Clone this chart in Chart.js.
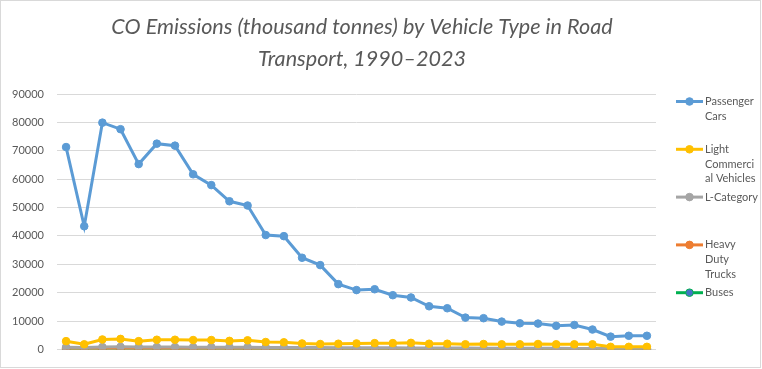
<!DOCTYPE html>
<html>
<head>
<meta charset="utf-8">
<script src="https://cdn.jsdelivr.net/npm/chart.js@4.4.1/dist/chart.umd.min.js"></script>
<style>
  body { margin: 0; background: #fff; }
  #wrap { position: relative; width: 762px; height: 369px; }
  #frame { position: absolute; left: 0; top: 0; width: 759px; height: 366px; border: 1px solid #d9d9d9; pointer-events: none; }
</style>
</head>
<body>
<div id="wrap">
  <canvas id="myChart" width="762" height="369"></canvas>
  <div id="frame"></div>
</div>
<script>
var years = [];
for (var y = 1990; y <= 2022; y++) years.push(String(y));

var titleLines = ['CO Emissions (thousand tonnes) by Vehicle Type in Road', 'Transport, 1990\u20132023'];

var seriesNames = ['Passenger Cars', 'Light Commercial Vehicles', 'L-Category', 'Heavy Duty Trucks', 'Buses'];
var legendLines = [['Passenger', 'Cars'], ['Light', 'Commerci', 'al Vehicles'], ['L-Category'], ['Heavy', 'Duty', 'Trucks'], ['Buses']];

var passengerCars = [71300, 43400, 79900, 77600, 65300, 72500, 71800, 61700, 57900, 52200, 50700, 40300, 39900, 32300, 29700,
  23000, 20900, 21200, 19100, 18300, 15200, 14500, 11200, 11000, 9800, 9200, 9100, 8300, 8600, 7000, 4500, 4800, 4800];
var lightCommercial = [2900, 1800, 3500, 3700, 2900, 3400, 3400, 3300, 3300, 3000, 3200, 2600, 2500, 2100, 1900,
  2000, 2100, 2200, 2200, 2300, 2000, 2000, 1800, 1900, 1800, 1800, 1900, 1800, 1800, 1800, 900, 900, 900];
var lCategory = [800, 700, 850, 900, 850, 850, 850, 800, 800, 800, 750, 700, 700, 650, 650,
  600, 600, 550, 550, 500, 500, 450, 450, 400, 400, 400, 380, 370, 350, 350, 300, 300, 300];
var heavyTrucks = [350, 330, 340, 340, 330, 330, 320, 310, 300, 300, 290, 280, 270, 260, 250,
  240, 230, 220, 210, 200, 190, 180, 170, 160, 150, 150, 140, 140, 130, 130, 110, 110, 100];
var buses = [80, 75, 80, 80, 75, 75, 75, 70, 70, 70, 65, 65, 60, 60, 55,
  55, 50, 50, 50, 45, 45, 40, 40, 40, 35, 35, 35, 30, 30, 30, 25, 25, 25];

var yTicks = [0, 10000, 20000, 30000, 40000, 50000, 60000, 70000, 80000, 90000];

var lineColors = ['#5B9BD5', '#FFC000', '#A5A5A5', '#ED7D31', '#00B050'];
var markerFill = ['#5B9BD5', '#FFC000', '#A5A5A5', '#ED7D31', '#4472C4'];
var textColor = '#595959';

function makeSet(i, values) {
    return {
        label: seriesNames[i],
        data: values,
        borderColor: lineColors[i],
        backgroundColor: markerFill[i],
        pointBackgroundColor: markerFill[i],
        pointBorderColor: lineColors[i],
        pointBorderWidth: 1,
        pointRadius: 3.8,
        borderWidth: 3,
        tension: 0
    };
}

// title + wrapped legend the way Excel lays them out
var excelDecor = {
    id: 'excelDecor',
    afterDraw: function (chart) {
        var ctx = chart.ctx;
        ctx.save();
        ctx.fillStyle = textColor;
        ctx.textAlign = 'center';
        ctx.textBaseline = 'middle';
        ctx.font = 'italic 400 21.6px Lato';
        ctx.fillText(titleLines[0], 362, 27);
        ctx.fillText(titleLines[1], 362, 59);

        ctx.textAlign = 'left';
        ctx.font = '11px Lato';
        chart.data.datasets.forEach(function (ds, i) {
            var cy = 101.5 + i * 47.8;
            ctx.strokeStyle = ds.borderColor;
            ctx.lineWidth = 3;
            ctx.beginPath();
            ctx.moveTo(676, cy);
            ctx.lineTo(703, cy);
            ctx.stroke();
            ctx.beginPath();
            ctx.arc(689.5, cy, 3.8, 0, Math.PI * 2);
            ctx.fillStyle = ds.pointBackgroundColor;
            ctx.fill();
            ctx.lineWidth = 1;
            ctx.stroke();
            ctx.fillStyle = textColor;
            legendLines[i].forEach(function (t, k) {
                ctx.fillText(t, 705, cy + k * 14.7);
            });
        });
        ctx.restore();
    }
};

var ctx = document.getElementById('myChart');
var myChart = new Chart(ctx, {
    type: 'line',
    data: {
        labels: years,
        datasets: [
            makeSet(0, passengerCars),
            makeSet(1, lightCommercial),
            makeSet(2, lCategory),
            makeSet(3, heavyTrucks),
            makeSet(4, buses)
        ]
    },
    options: {
        responsive: false,
        devicePixelRatio: 1,
        animation: false,
        layout: {
            padding: { top: 94, right: 106, bottom: 17, left: 0 }
        },
        plugins: {
            legend: { display: false },
            title: { display: false },
            tooltip: { enabled: false }
        },
        scales: {
            x: {
                display: false,
                offset: true
            },
            y: {
                min: 0,
                max: 90000,
                afterFit: function (scale) { scale.width = 57; },
                afterBuildTicks: function (scale) {
                    scale.ticks = yTicks.map(function (v) { return { value: v }; });
                },
                grid: { color: '#D9D9D9', lineWidth: 1, drawTicks: false },
                border: { display: false },
                ticks: {
                    padding: 13,
                    color: textColor,
                    font: { family: 'Lato', size: 11 },
                    callback: function (v) { return String(v); }
                }
            }
        }
    },
    plugins: [excelDecor]
});
</script>
</body>
</html>
